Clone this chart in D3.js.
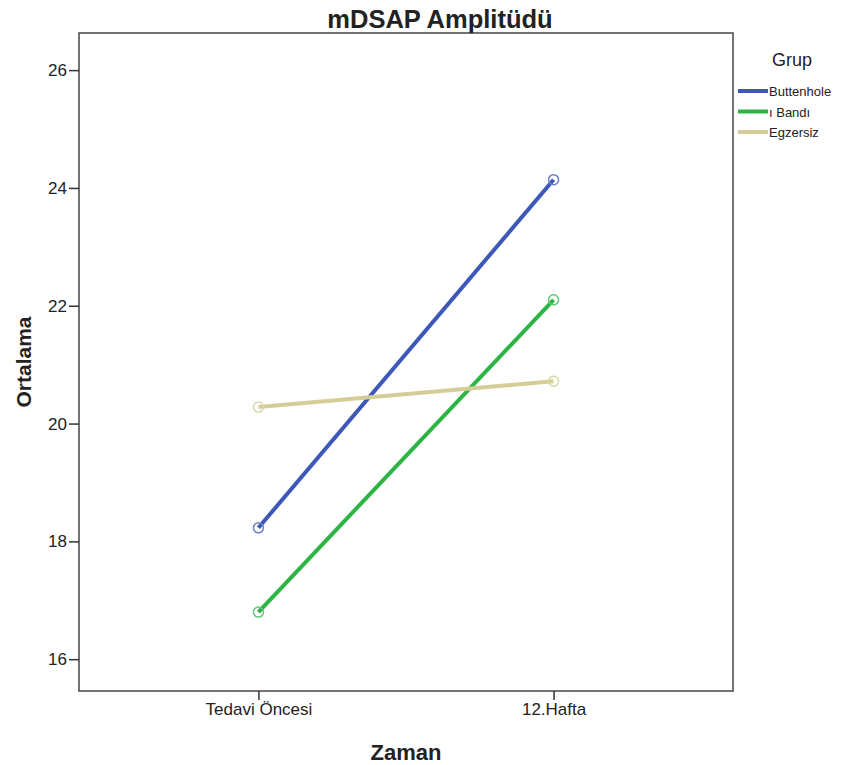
<!DOCTYPE html>
<html>
<head>
<meta charset="utf-8">
<script src="https://cdn.jsdelivr.net/npm/d3@7"></script>
<style>
  body { margin: 0; background: #fff; }
  text { font-family: "Liberation Sans", Arial, sans-serif; fill: #222; }
</style>
</head>
<body>
<svg id="chart" width="856" height="765"></svg>
<script>
// DATA
const zamanlar = ["Tedavi Öncesi", "12.Hafta"];
const gruplar = ["Buttenhole", "ı Bandı", "Egzersiz"];
const buttenhole = [18.23, 24.14];
const bandi = [16.8, 22.1];
const egzersiz = [20.28, 20.72];
const yTicks = [16, 18, 20, 22, 24, 26];

const series = [
    { name: gruplar[0], values: buttenhole, color: "#3d58b8", mark: "#6f80c8" },
    { name: gruplar[1], values: bandi, color: "#2cb444", mark: "#64c477" },
    { name: gruplar[2], values: egzersiz, color: "#d5cd96", mark: "#dcd6a8" }
];

const margin = { top: 33, right: 123, bottom: 74, left: 79 };
const width = 856 - margin.left - margin.right;
const height = 765 - margin.top - margin.bottom;

const svg = d3.select("#chart");
const g = svg.append("g").attr("transform", `translate(${margin.left},${margin.top})`);

const x = d3.scalePoint().domain(zamanlar).range([0, width]).padding(0.608);
const y = d3.scaleLinear().domain([15.46, 26.63]).range([height, 0]);

// frame
g.append("rect")
    .attr("width", width).attr("height", height)
    .attr("fill", "none").attr("stroke", "#444").attr("stroke-width", 1.5);

// axes
const yAxis = g.append("g").call(d3.axisLeft(y).tickValues(yTicks).tickSize(10).tickPadding(2));
const xAxis = g.append("g").attr("transform", `translate(0,${height})`)
    .call(d3.axisBottom(x).tickSize(9).tickPadding(3));
[yAxis, xAxis].forEach(a => {
    a.select(".domain").remove();
    a.selectAll(".tick line").attr("stroke", "#333").attr("stroke-width", 1.5);
    a.selectAll(".tick text").attr("font-size", "17px").attr("fill", "#222")
        .attr("font-family", "Liberation Sans, Arial, sans-serif");
});

// lines
const line = d3.line().x((d, i) => x(zamanlar[i])).y(d => y(d));
series.forEach(s => {
    g.append("path").datum(s.values)
        .attr("fill", "none").attr("stroke", s.color)
        .attr("stroke-width", 4).attr("d", line);
    g.selectAll(null).data(s.values).enter().append("circle")
        .attr("cx", (d, i) => x(zamanlar[i])).attr("cy", d => y(d))
        .attr("r", 5).attr("fill", "none")
        .attr("stroke", s.mark).attr("stroke-width", 1.5);
});

// title and axis labels
svg.append("text").attr("x", 440).attr("y", 28).attr("text-anchor", "middle")
    .attr("font-size", "25.5px").attr("font-weight", "bold").text("mDSAP Amplitüdü");
svg.append("text").attr("transform", "translate(31,362) rotate(-90)")
    .attr("text-anchor", "middle").attr("font-size", "21px").attr("font-weight", "bold")
    .text("Ortalama");
svg.append("text").attr("x", 406).attr("y", 760).attr("text-anchor", "middle")
    .attr("font-size", "22px").attr("font-weight", "bold").text("Zaman");

// legend
const legend = svg.append("g").attr("transform", "translate(738,0)");
legend.append("text").attr("x", 34).attr("y", 66).attr("font-size", "18px").text("Grup");
series.forEach((s, i) => {
    const ly = 91 + i * 20.5;
    legend.append("line").attr("x1", 0).attr("x2", 30).attr("y1", ly).attr("y2", ly)
        .attr("stroke", s.color).attr("stroke-width", 4);
    legend.append("text").attr("x", 31).attr("y", ly + 5).attr("font-size", "13px").text(s.name);
});
</script>
</body>
</html>
